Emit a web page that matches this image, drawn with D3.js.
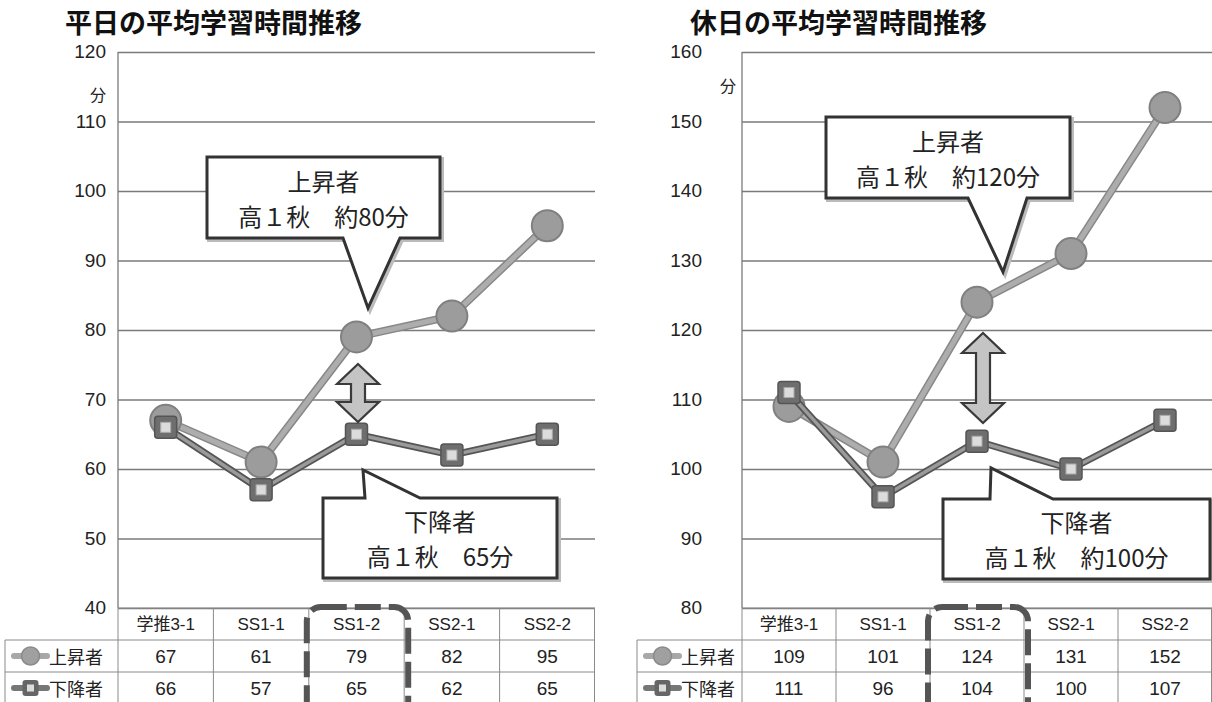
<!DOCTYPE html>
<html><head><meta charset="utf-8">
<script src="https://cdn.jsdelivr.net/npm/d3@7"></script>
<style>
html,body{margin:0;padding:0;background:#fff;}
svg{display:block;}
</style></head>
<body>
<svg id="c" width="1212" height="702"></svg>
<script>
// ---- data ----
const categories = ["学推3-1","SS1-1","SS1-2","SS2-1","SS2-2"];
const seriesNames = ["上昇者","下降者"];
const weekdayRising  = [67,61,79,82,95];
const weekdayFalling = [66,57,65,62,65];
const holidayRising  = [109,101,124,131,152];
const holidayFalling = [111,96,104,100,107];
const weekdayTicks = [40,50,60,70,80,90,100,110,120];
const holidayTicks = [80,90,100,110,120,130,140,150,160];
const titles = ["平日の平均学習時間推移","休日の平均学習時間推移"];
const unitLabel = "分";
const highlightCategory = "SS1-2";

const svg = d3.select("#c");
const JP = "'Noto Sans CJK JP','Noto Sans',sans-serif";
const NUM = "'Liberation Sans',Arial,'Noto Sans CJK JP',sans-serif";

const charts = [
  {title:titles[0], rising:weekdayRising, falling:weekdayFalling, ticks:weekdayTicks,
   left:118, right:595, top:52, bottom:608, legendLeft:5, titleX:65, tickX:106, unitX:98, unitY:97,
   callouts:[
     {box:[207,157,440,238], ptr:[[343,238],[368,308],[400,238]], lines:["上昇者","高１秋　約80分"]},
     {box:[323,498,557,578], ptr:[[365,498],[363,470],[420,498]], lines:["下降者","高１秋　65分"]}
   ],
   arrow:{x:358, y0:364, y1:422}},
  {title:titles[1], rising:holidayRising, falling:holidayFalling, ticks:holidayTicks,
   left:742, right:1212, top:52, bottom:608, legendLeft:637, titleX:690, tickX:702, unitX:728, unitY:88,
   callouts:[
     {box:[826,117,1070,198], ptr:[[968,198],[1003,272],[1027,198]], lines:["上昇者","高１秋　約120分"]},
     {box:[943,499,1210,579], ptr:[[990,499],[991,468],[1053,499]], lines:["下降者","高１秋　約100分"]}
   ],
   arrow:{x:983, y0:333, y1:423}}
];

charts.forEach(c => {
  const g = svg.append("g");
  const x = d3.scaleBand().domain(categories).range([c.left, c.right]).padding(0);
  const y = d3.scaleLinear().domain(d3.extent(c.ticks)).range([c.bottom, c.top]);
  const cx = d => x(d) + x.bandwidth()/2;

  // title
  g.append("text").attr("x", c.titleX).attr("y", 33).text(c.title)
    .style("font-family", JP).style("font-weight", 700).style("font-size","27px").attr("fill","#111");

  // gridlines
  g.append("g").attr("transform",`translate(${c.left},0)`)
    .call(d3.axisLeft(y).tickValues(c.ticks).tickSize(-(c.right-c.left)).tickFormat(""))
    .call(s => { s.select(".domain").remove(); s.selectAll(".tick line").attr("stroke","#7a7a7a").attr("stroke-width",1.3); });
  // y axis line
  g.append("line").attr("x1",c.left).attr("x2",c.left).attr("y1",c.top).attr("y2",c.bottom)
    .attr("stroke","#7a7a7a").attr("stroke-width",1.3);
  // tick labels
  g.append("g").attr("transform",`translate(${c.tickX},0)`)
    .call(d3.axisLeft(y).tickValues(c.ticks).tickSize(0).tickPadding(0))
    .call(s => { s.select(".domain").remove(); s.attr("font-family",null).attr("font-size",null);
      s.selectAll("text").style("font-family",NUM).style("font-size","19px").attr("fill","#222").attr("dy","0.3em"); });
  g.append("text").attr("x",c.unitX).attr("y",c.unitY).attr("text-anchor","middle").attr("dominant-baseline","middle")
    .text(unitLabel).style("font-family",JP).style("font-size","16px").attr("fill","#222");

  // table
  const rowH = 32;
  const tbl = g.append("g").attr("stroke","#8a8a8a").attr("stroke-width",1);
  [0,1,2].forEach(i => tbl.append("line").attr("x1", i===0 ? c.left : c.legendLeft).attr("x2", c.right)
      .attr("y1", c.bottom + i*rowH).attr("y2", c.bottom + i*rowH));
  tbl.append("line").attr("x1",c.legendLeft).attr("x2",c.legendLeft).attr("y1",c.bottom+rowH).attr("y2",702);
  categories.concat([null]).forEach((d,i) => {
    const xx = d === null ? c.right - 0.5 : x(d);
    tbl.append("line").attr("x1",xx).attr("x2",xx).attr("y1",c.bottom).attr("y2",702);
  });
  g.selectAll(".hdr").data(categories).enter().append("text")
    .attr("x", d => cx(d)).attr("y", c.bottom + rowH/2).attr("text-anchor","middle").attr("dominant-baseline","central")
    .text(d => d).style("font-family",NUM).style("font-size","17px").attr("fill","#222");
  [c.rising, c.falling].forEach((vals, r) => {
    g.selectAll(".v"+r).data(vals).enter().append("text")
      .attr("x",(d,i) => cx(categories[i])).attr("y", c.bottom + rowH*(r+1) + rowH/2)
      .attr("text-anchor","middle").attr("dominant-baseline","central")
      .text(d => d).style("font-family",NUM).style("font-size","19px").attr("fill","#222");
    // legend
    const ly = c.bottom + rowH*(r+1) + rowH/2;
    const lx0 = c.legendLeft + 9, lx1 = c.legendLeft + 42, lm = (lx0+lx1)/2;
    if (r === 0) {
      g.append("line").attr("x1",lx0).attr("x2",lx1).attr("y1",ly).attr("y2",ly).attr("stroke","#a8a8a8").attr("stroke-width",6).attr("stroke-linecap","round");
      g.append("circle").attr("cx",lm).attr("cy",ly).attr("r",9).attr("fill","#a0a0a0").attr("stroke","#8a8a8a").attr("stroke-width",1.5);
    } else {
      g.append("line").attr("x1",lx0).attr("x2",lx1).attr("y1",ly).attr("y2",ly).attr("stroke","#777").attr("stroke-width",6).attr("stroke-linecap","round");
      g.append("rect").attr("x",lm-8).attr("y",ly-8).attr("width",16).attr("height",16).attr("rx",3).attr("fill","#666");
      g.append("rect").attr("x",lm-3.5).attr("y",ly-3.5).attr("width",7).attr("height",7).attr("fill","#ddd");
    }
    g.append("text").attr("x", lx1 + 2).attr("y", ly).attr("dominant-baseline","central")
      .text(seriesNames[r]).style("font-family",JP).style("font-size","18px").attr("fill","#222");
  });

  // dashed highlight box
  const hx0 = x(highlightCategory) - 2, hx1 = x(highlightCategory) + x.bandwidth() + 4;
  g.append("rect").attr("x",hx0).attr("y",c.bottom - 1).attr("width",hx1-hx0).attr("height",120).attr("rx",14)
    .attr("fill","none").attr("stroke","#555").attr("stroke-width",6).attr("stroke-dasharray","26 8");

  // lines
  const line = d3.line().x((d,i) => cx(categories[i])).y(d => y(d));
  g.append("path").attr("d", line(c.rising)).attr("fill","none").attr("stroke","#888").attr("stroke-width",8).attr("stroke-linejoin","round");
  g.append("path").attr("d", line(c.rising)).attr("fill","none").attr("stroke","#adadad").attr("stroke-width",5).attr("stroke-linejoin","round");
  g.selectAll(".rc").data(c.rising).enter().append("circle")
    .attr("cx",(d,i) => cx(categories[i])).attr("cy", d => y(d)).attr("r",15.5)
    .attr("fill","#9c9c9c").attr("stroke","#808080").attr("stroke-width",2);

  g.append("path").attr("d", line(c.falling)).attr("fill","none").attr("stroke","#555").attr("stroke-width",7).attr("stroke-linejoin","round");
  g.append("path").attr("d", line(c.falling)).attr("fill","none").attr("stroke","#9a9a9a").attr("stroke-width",3.5).attr("stroke-linejoin","round");
  const sq = g.selectAll(".fs").data(c.falling).enter().append("g")
    .attr("transform",(d,i) => `translate(${cx(categories[i])},${y(d)})`);
  sq.append("rect").attr("x",-11).attr("y",-11).attr("width",22).attr("height",22).attr("rx",3).attr("fill","#6e6e6e").attr("stroke","#555").attr("stroke-width",1.5);
  sq.append("rect").attr("x",-5).attr("y",-5).attr("width",10).attr("height",10).attr("fill","#dcdcdc").attr("stroke","#aaa").attr("stroke-width",1);

  // double arrow
  const a = c.arrow, hw = 21, sw = 7, hh = 20;
  const ap = [[a.x,a.y0],[a.x+hw,a.y0+hh],[a.x+sw,a.y0+hh],[a.x+sw,a.y1-hh],[a.x+hw,a.y1-hh],[a.x,a.y1],
              [a.x-hw,a.y1-hh],[a.x-sw,a.y1-hh],[a.x-sw,a.y0+hh],[a.x-hw,a.y0+hh]];
  g.append("path").attr("d", d3.line()(ap) + "Z").attr("fill","#c4c4c4").attr("stroke","#3a3a3a").attr("stroke-width",2.2).attr("stroke-linejoin","miter");

  // callouts
  c.callouts.forEach(co => {
    const [x0,y0,x1,y1] = co.box;
    const p = co.ptr;
    const isBottom = Math.abs(p[0][1] - y1) < 2;
    let pts;
    if (isBottom) pts = [[x0,y0],[x1,y0],[x1,y1],p[2],p[1],p[0],[x0,y1]];
    else pts = [[x0,y0],p[0],p[1],p[2],[x1,y0],[x1,y1],[x0,y1]];
    const d = d3.line()(pts) + "Z";
    g.append("path").attr("d", d).attr("fill","none").attr("stroke","#bbb").attr("stroke-width",4).attr("transform","translate(2,2)");
    g.append("path").attr("d", d).attr("fill","#fff").attr("stroke","#333").attr("stroke-width",3).attr("stroke-linejoin","miter");
    const mid = (y0+y1)/2;
    co.lines.forEach((s,i) => g.append("text").attr("x",(x0+x1)/2).attr("y", mid + (i===0 ? -17.5 : 17.5))
      .attr("text-anchor","middle").attr("dominant-baseline","central")
      .text(s).style("font-family",JP).style("font-size","24px").attr("fill","#222"));
  });
});
</script>
</body></html>
